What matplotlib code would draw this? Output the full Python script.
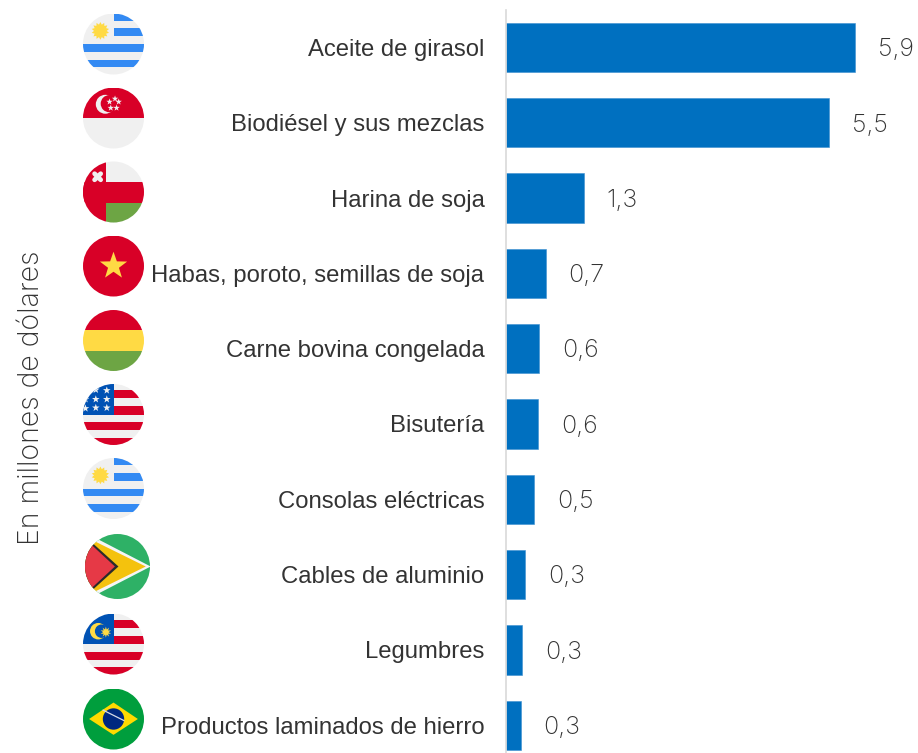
import numpy as np
import matplotlib
matplotlib.use("Agg")
import matplotlib.pyplot as plt
from matplotlib.patches import Circle, Polygon, Rectangle

# data
categories = ["Aceite de girasol", "Biodiésel y sus mezclas", "Harina de soja",
              "Habas, poroto, semillas de soja", "Carne bovina congelada", "Bisutería",
              "Consolas eléctricas", "Cables de aluminio", "Legumbres",
              "Productos laminados de hierro"]
values = [5.89, 5.44, 1.31, 0.67, 0.56, 0.54, 0.47, 0.32, 0.27, 0.25]
value_labels = ["5,9", "5,5", "1,3", "0,7", "0,6", "0,6", "0,5", "0,3", "0,3", "0,3"]
flags = ["uruguay", "singapore", "oman", "vietnam", "bolivia",
         "usa", "uruguay", "guyana", "malaysia", "brazil"]
# flag circles in pixels: centre x, centre y, radius
flag_boxes = [(113.5, 44, 30.5), (113.5, 118, 30.5), (113.5, 192, 30.5), (113.5, 266, 30.5),
              (113.5, 340.5, 30.5), (113.5, 414.5, 30.5), (113.5, 488.5, 30.5),
              (117.5, 566.5, 32.5), (113.5, 644, 30.5), (113.5, 719, 30.5)]

W, H = 918, 753
BLUE = "#0070c0"
TEXT = "#333333"
RED = "#d80027"
WHITE = "#f0f0f0"
YELLOW = "#ffda44"
GREEN = "#6da544"
FLAG_BLUE = "#338af3"
NAVY = "#0052b4"


def star(x, y, r, n=5, inner=0.4):
    ang = -np.pi / 2 + np.arange(2 * n) * np.pi / n
    rad = np.where(np.arange(2 * n) % 2 == 0, r, r * inner)
    return np.column_stack([x + rad * np.cos(ang), y + rad * np.sin(ang)])


def band(ax, y0, y1, color, x0=-1.1, x1=1.1):
    return add(ax, Rectangle((x0, y0), x1 - x0, y1 - y0, color=color, lw=0))


def add(ax, patch):
    ax.add_patch(patch)
    patch.set_clip_path(ax.clip_circle)
    return patch


def poly(ax, pts, color):
    return add(ax, Polygon(pts, closed=True, color=color, lw=0))


def draw_flag(ax, name):
    if name == "uruguay":
        band(ax, -1.1, 1.1, WHITE)
        for y0, y1, x0 in [(-1.0, -0.77, 0), (-0.52, -0.26, 0), (0, 0.26, -1.1), (0.52, 0.77, -1.1)]:
            band(ax, y0, y1, FLAG_BLUE, x0=x0)
        poly(ax, star(-0.43, -0.43, 0.29, n=14, inner=0.72), YELLOW)
    elif name == "singapore":
        band(ax, -1.1, 0, RED)
        band(ax, 0, 1.1, WHITE)
        add(ax, Circle((-0.27, -0.45), 0.31, color=WHITE, lw=0))
        add(ax, Circle((-0.14, -0.47), 0.28, color=RED, lw=0))
        for x, y in [(0.05, -0.63), (-0.13, -0.53), (0.17, -0.53), (-0.09, -0.33), (0.1, -0.33)]:
            poly(ax, star(x, y, 0.11), WHITE)
    elif name == "oman":
        band(ax, -1.1, 1.1, WHITE)
        band(ax, -0.34, 0.36, RED)
        band(ax, -1.1, 1.1, RED, x1=-0.25)
        band(ax, 0.36, 1.1, GREEN, x0=-0.25)
        ax.plot([-0.62, -0.42], [-0.6, -0.4], color=WHITE, lw=3.4, solid_capstyle="round")
        ax.plot([-0.62, -0.42], [-0.4, -0.6], color=WHITE, lw=3.4, solid_capstyle="round")
    elif name == "vietnam":
        band(ax, -1.1, 1.1, RED)
        poly(ax, star(0, 0.0, 0.47), YELLOW)
    elif name == "bolivia":
        band(ax, -1.1, -0.36, RED)
        band(ax, -0.36, 0.34, YELLOW)
        band(ax, 0.34, 1.1, GREEN)
    elif name in ("usa", "malaysia"):
        band(ax, -1.1, 1.1, WHITE)
        for y0, y1, x0 in [(-0.8, -0.54, 0), (-0.27, 0, 0), (0.26, 0.52, -1.1), (0.77, 1.1, -1.1)]:
            band(ax, y0, y1, RED, x0=x0)
        band(ax, -1.1, 0, NAVY, x1=0)
        if name == "usa":
            for x, y in [(-0.58, -0.81), (-0.22, -0.79), (-0.58, -0.5), (-0.22, -0.5),
                         (-0.92, -0.5), (-0.92, -0.2), (-0.58, -0.22), (-0.22, -0.22)]:
                poly(ax, star(x, y, 0.13), WHITE)
        else:
            add(ax, Circle((-0.5, -0.42), 0.27, color=YELLOW, lw=0))
            add(ax, Circle((-0.39, -0.42), 0.22, color=NAVY, lw=0))
            poly(ax, star(-0.25, -0.39, 0.18, n=10, inner=0.5), YELLOW)
    elif name == "guyana":
        band(ax, -1.1, 1.1, "#2eb166")
        poly(ax, [(-1.3, -1.2), (1.02, 0), (-1.3, 1.2)], "#f5f5f5")
        poly(ax, [(-1.3, -1.07), (0.87, 0), (-1.3, 1.07)], "#f4c20d")
        poly(ax, [(-1.3, -1.2), (0.03, 0), (-1.3, 1.2)], "#2b2b2b")
        poly(ax, [(-1.3, -1.13), (-0.08, 0), (-1.3, 1.13)], "#e63946")
    elif name == "brazil":
        band(ax, -1.1, 1.1, "#009e3d")
        poly(ax, [(-0.8, 0), (0, -0.54), (0.8, 0), (0, 0.52)], "#ffda00")
        add(ax, Circle((0, 0), 0.35, color="#00287f", lw=0))
        t = np.linspace(-0.34, 0.34, 20)
        ax.plot(t, -0.12 + 0.5 * t, color="#d8dce8", lw=0.9)


plt.rcParams["font.family"] = ["Liberation Sans", "DejaVu Sans"]
fig = plt.figure(figsize=(W / 100, H / 100), dpi=100)
fig.patch.set_facecolor("white")

# bars: axes spans from the base line to the right edge, x scale 59.3 px per unit
ax = fig.add_axes([506 / W, 0, (W - 506) / W, (H - 10) / H])
y = np.arange(len(values))
ax.barh(y, values, height=0.655, color=BLUE, edgecolor="#3b8fd0", linewidth=0.4)
ax.set_xlim(0, (W - 506) / 59.3)
ax.set_ylim((H - 47.5) / 75.3, (10 - 47.5) / 75.3)
ax.set_yticks(y)
ax.set_yticklabels(categories, fontsize=17.2, color=TEXT)
ax.tick_params(axis="y", length=0, pad=15.5)
ax.xaxis.set_visible(False)
for s in ["top", "right", "bottom"]:
    ax.spines[s].set_visible(False)
ax.spines["left"].set_color("#d9d9d9")
ax.spines["left"].set_linewidth(1.2)
for yi, v, lab in zip(y, values, value_labels):
    ax.annotate(lab, (v, yi), xytext=(16.5, -1.6), textcoords="offset points", va="center",
                ha="left", fontsize=18, color=TEXT, family=["Inter", "DejaVu Sans"], fontweight="light")

fig.text(32 / W, 1 - 398 / H, "En millones de dólares", rotation=90, ha="center", va="center",
         fontsize=20.5, color=TEXT, family=["Inter", "DejaVu Sans"], fontweight="light")

for name, (cx, cy, r) in zip(flags, flag_boxes):
    fax = fig.add_axes([(cx - r) / W, 1 - (cy + r) / H, 2 * r / W, 2 * r / H])
    fax.set_xlim(-1, 1)
    fax.set_ylim(1, -1)
    fax.axis("off")
    fax.clip_circle = Circle((0, 0), 1, transform=fax.transData)
    draw_flag(fax, name)
    for line in fax.lines:
        line.set_clip_path(fax.clip_circle)

fig.savefig("out.png", dpi=100)
